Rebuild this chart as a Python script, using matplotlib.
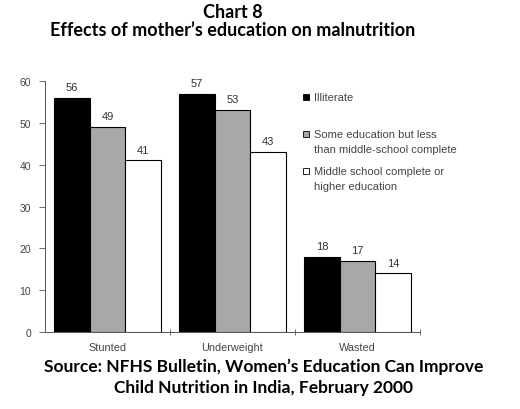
import matplotlib
matplotlib.use('agg')
import matplotlib.pyplot as plt
import numpy as np

categories = ['Stunted', 'Underweight', 'Wasted']
illiterate = [56, 57, 18]
some_edu = [49, 53, 17]
middle_plus = [41, 43, 14]
series_labels = ['Illiterate',
                 'Some education but less\nthan middle-school complete',
                 'Middle school complete or\nhigher education']
y_ticks = [0, 10, 20, 30, 40, 50, 60]


def main():
    fig = plt.figure(figsize=(5.2, 4.1), dpi=100)
    ax = fig.add_axes([45 / 520, 1 - 333 / 410, 375 / 520, 251 / 410])

    x = np.arange(len(categories)) + 0.5
    w = 0.285
    colors = ['black', '#a8a8a8', 'white']
    series = [illiterate, some_edu, middle_plus]
    for i, (vals, col) in enumerate(zip(series, colors)):
        pos = x + (i - 1) * w
        ax.bar(pos, vals, width=w, color=col, edgecolor='black', linewidth=0.8)
        for px, v in zip(pos, vals):
            ax.text(px, v + 1.4, str(v), ha='center', va='bottom',
                    fontsize=8, color='#333333', family='Liberation Sans')

    ax.set_xlim(0, 3)
    ax.set_ylim(0, 60)
    ax.set_yticks(y_ticks)
    ax.set_yticklabels([str(t) for t in y_ticks], fontsize=7.5, color='#444444',
                       family='Liberation Sans')
    ax.set_xticks([1, 2, 3])
    ax.set_xticklabels([])
    ax.set_xticks(x, minor=True)
    ax.set_xticklabels(categories, minor=True, fontsize=7.8, color='#444444',
                       family='Liberation Sans')
    ax.tick_params(axis='x', which='minor', length=0, pad=7)
    ax.tick_params(axis='x', which='major', direction='inout', length=5,
                   width=0.6, color='#555555')
    ax.tick_params(axis='y', direction='out', length=4, width=0.6,
                   color='#555555', pad=6)
    for s in ['top', 'right']:
        ax.spines[s].set_visible(False)
    for s in ['left', 'bottom']:
        ax.spines[s].set_color('#555555')
        ax.spines[s].set_linewidth(0.7)

    # legend drawn by hand to the right of the middle group
    leg_y = [98, 135, 172]
    for col, lab, yy in zip(colors, series_labels, leg_y):
        fig.patches.append(plt.Rectangle((303 / 520, 1 - (yy + 3) / 410),
                                         6 / 520, 6 / 410, transform=fig.transFigure,
                                         facecolor=col, edgecolor='black',
                                         linewidth=0.6))
        fig.text(314 / 520, 1 - (yy - 5) / 410, lab, ha='left', va='top',
                 fontsize=8, color='#444444', family='Liberation Sans',
                 linespacing=1.6)

    fig.text(233 / 520, 1 - 12 / 410, 'Chart 8', ha='center', va='center',
             fontsize=13, fontweight='bold', family='Lato')
    fig.text(233 / 520, 1 - 30 / 410, 'Effects of mother\u2019s education on malnutrition',
             ha='center', va='center', fontsize=13, fontweight='bold',
             family='Lato')
    fig.text(264 / 520, 1 - 367 / 410,
             'Source: NFHS Bulletin, Women\u2019s Education Can Improve',
             ha='center', va='center', fontsize=12.5, fontweight='bold',
             family='Lato')
    fig.text(264 / 520, 1 - 388 / 410, 'Child Nutrition in India, February 2000',
             ha='center', va='center', fontsize=12.5, fontweight='bold',
             family='Lato')

    fig.savefig('out.png', dpi=100)


if __name__ == '__main__':
    main()
